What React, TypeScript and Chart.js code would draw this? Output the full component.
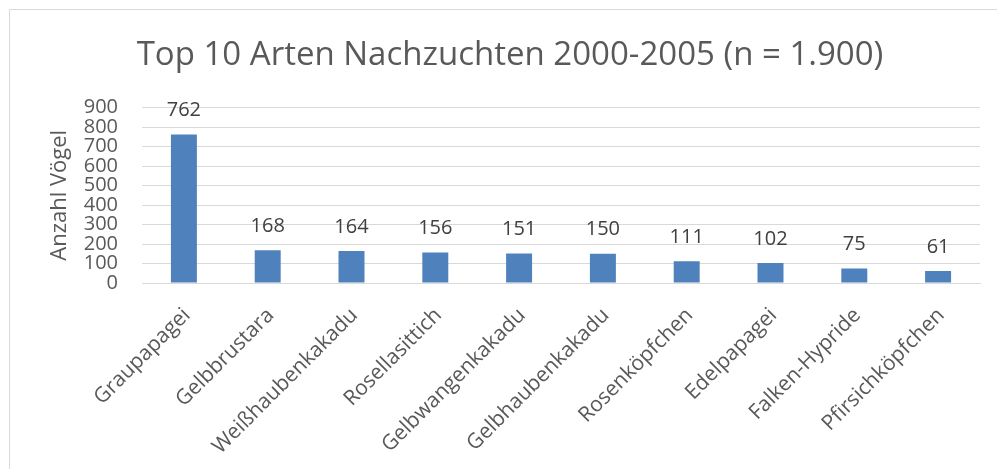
import React, { useEffect, useRef } from "react";
import { Chart, registerables } from "chart.js";

Chart.register(...registerables);

const categories = [
  "Graupapagei",
  "Gelbbrustara",
  "Weißhaubenkakadu",
  "Rosellasittich",
  "Gelbwangenkakadu",
  "Gelbhaubenkakadu",
  "Rosenköpfchen",
  "Edelpapagei",
  "Falken-Hypride",
  "Pfirsichköpfchen",
];
const values = [762, 168, 164, 156, 151, 150, 111, 102, 75, 61];
const titleText = "Top 10 Arten Nachzuchten 2000-2005 (n = 1.900)";
const yAxisTitle = "Anzahl Vögel";
const yMin = 0;
const yMax = 900;
const yStep = 100;

const FONT = "'Open Sans', 'DejaVu Sans', sans-serif";

const dataLabelPlugin = {
  id: "dataLabels",
  afterDatasetsDraw(chart: any) {
    const ctx = chart.ctx;
    const meta = chart.getDatasetMeta(0);
    ctx.save();
    ctx.font = `20px ${FONT}`;
    ctx.fillStyle = "#404040";
    ctx.textAlign = "center";
    ctx.textBaseline = "middle";
    meta.data.forEach((bar: any, i: number) => {
      ctx.fillText(String(values[i]), bar.x, bar.y - 24);
    });
    ctx.restore();
  },
};

const frameBorderPlugin = {
  id: "frameBorder",
  beforeDraw(chart: any) {
    const ctx = chart.ctx;
    ctx.save();
    ctx.fillStyle = "#ffffff";
    ctx.fillRect(0, 0, chart.width, chart.height);
    ctx.strokeStyle = "#d9d9d9";
    ctx.lineWidth = 1;
    ctx.beginPath();
    ctx.moveTo(9.5, chart.height + 5);
    ctx.lineTo(9.5, 9.5);
    ctx.lineTo(chart.width + 5, 9.5);
    ctx.stroke();
    ctx.restore();
  },
};

export default function App() {
  const canvasRef = useRef<HTMLCanvasElement | null>(null);

  useEffect(() => {
    if (!canvasRef.current) return;
    const chart = new Chart(canvasRef.current, {
      type: "bar",
      data: {
        labels: categories,
        datasets: [
          {
            data: values,
            backgroundColor: "#4f81bd",
            borderWidth: 0,
            categoryPercentage: 1,
            barPercentage: 0.31,
          },
        ],
      },
      plugins: [frameBorderPlugin, dataLabelPlugin],
      options: {
        responsive: false,
        animation: false,
        layout: { padding: { left: 40, right: 17, top: 0, bottom: 0 } },
        plugins: {
          legend: { display: false },
          tooltip: { enabled: false },
          title: {
            display: true,
            text: titleText,
            color: "#595959",
            font: { family: FONT, size: 33, weight: "normal", lineHeight: 1.2 },
            padding: { top: 36, bottom: 32 },
          },
        },
        scales: {
          x: {
            grid: { display: false, drawTicks: false },
            border: { display: true, color: "#d9d9d9", width: 1 },
            ticks: {
              color: "#595959",
              font: { family: FONT, size: 21 },
              minRotation: 45,
              maxRotation: 45,
              padding: 20,
              labelOffset: 3,
              autoSkip: false,
            },
            afterFit(scale: any) {
              scale.height = 186;
            },
          },
          y: {
            min: yMin,
            max: yMax,
            grid: { color: "#d9d9d9", drawTicks: false },
            border: { display: false },
            ticks: {
              stepSize: yStep,
              autoSkip: false,
              color: "#595959",
              font: { family: FONT, size: 20 },
              padding: 24,
            },
            title: {
              display: true,
              text: yAxisTitle,
              color: "#595959",
              font: { family: FONT, size: 22 },
              padding: { top: 7, bottom: 0 },
            },
            afterFit(scale: any) {
              scale.width = 102;
            },
          },
        },
      },
    });
    return () => chart.destroy();
  }, []);

  return (
    <div
      style={{
        position: "absolute",
        left: 0,
        top: 0,
        width: 997,
        height: 469,
        overflow: "hidden",
        background: "#fff",
      }}
    >
      <canvas ref={canvasRef} width={997} height={469} style={{ display: "block" }} />
    </div>
  );
}
